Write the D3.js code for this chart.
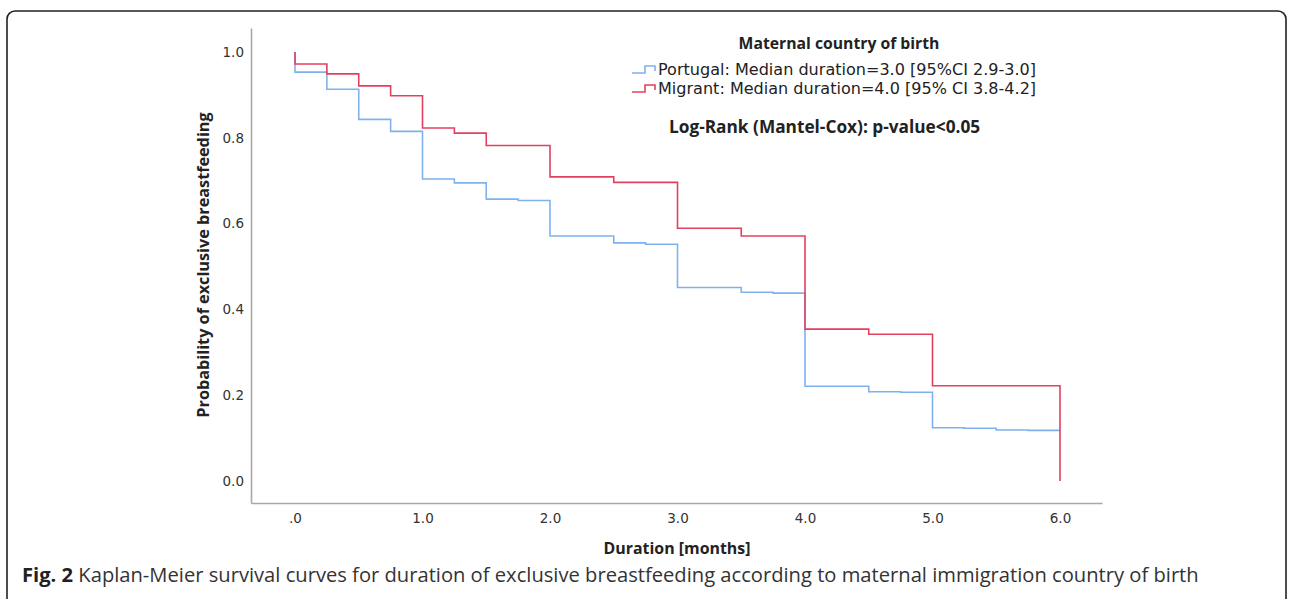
<!DOCTYPE html>
<html>
<head>
<meta charset="utf-8">
<script src="https://cdn.jsdelivr.net/npm/d3@7"></script>
<style>
  html, body { margin: 0; padding: 0; background: #fff; }
  svg { display: block; }
</style>
</head>
<body>
<svg id="chart" width="1289" height="599"></svg>
<script>
// ---- Data ----
const portugalTimes = [0, 0, 0.25, 0.5, 0.75, 1.0, 1.25, 1.5, 1.75, 2.0, 2.5, 2.75, 3.0, 3.5, 3.75, 4.0, 4.5, 4.75, 5.0, 5.25, 5.5, 5.75, 6.0];
const portugalSurv  = [1.0, 0.953, 0.913, 0.843, 0.815, 0.704, 0.695, 0.657, 0.654, 0.571, 0.555, 0.552, 0.451, 0.440, 0.438, 0.221, 0.208, 0.207, 0.124, 0.123, 0.119, 0.118, 0.118];
const migrantTimes  = [0, 0, 0.25, 0.5, 0.75, 1.0, 1.25, 1.5, 2.0, 2.5, 3.0, 3.5, 4.0, 4.5, 5.0, 6.0];
const migrantSurv   = [1.0, 0.972, 0.949, 0.921, 0.898, 0.823, 0.811, 0.782, 0.709, 0.696, 0.589, 0.571, 0.354, 0.342, 0.222, 0.0];

const xTicks = [0, 1, 2, 3, 4, 5, 6];
const xTickLabels = [".0", "1.0", "2.0", "3.0", "4.0", "5.0", "6.0"];
const yTicks = [0, 0.2, 0.4, 0.6, 0.8, 1.0];
const yTickLabels = ["0.0", "0.2", "0.4", "0.6", "0.8", "1.0"];

const seriesNames = ["Portugal: Median duration=3.0 [95%CI 2.9-3.0]", "Migrant: Median duration=4.0 [95% CI 3.8-4.2]"];
const seriesColors = ["#7fb1ef", "#e2405f"];
const legendTitle = "Maternal country of birth";
const testLabel = "Log-Rank (Mantel-Cox): p-value<0.05";
const xTitle = "Duration [months]";
const yTitle = "Probability of exclusive breastfeeding";
const captionBold = "Fig. 2";
const captionText = " Kaplan-Meier survival curves for duration of exclusive breastfeeding according to maternal immigration country of birth";

// ---- Layout ----
const svg = d3.select("#chart");
const chartFont = "'DejaVu Sans', sans-serif";
const boldFont = "'Open Sans', sans-serif";

// frame
svg.append("rect")
  .attr("x", 7).attr("y", 11).attr("width", 1279).attr("height", 640)
  .attr("rx", 8).attr("ry", 8)
  .attr("fill", "none").attr("stroke", "#222").attr("stroke-width", 1.6);

// scales: axis lines span 251..1102 and 28..503; x(0)=295, x(6)=1060; y(0)=481, y(1)=52
const xPerUnit = (1060 - 295) / 6;
const x = d3.scaleLinear()
  .domain([(251 - 295) / xPerUnit, (1102 - 295) / xPerUnit])
  .range([251, 1102]);
const yPerUnit = (481 - 52);
const y = d3.scaleLinear()
  .domain([(481 - 503) / yPerUnit, (481 - 28) / yPerUnit])
  .range([503, 28]);

function fitWidth(sel, target) {
  const node = sel.node();
  let fs = parseFloat(sel.attr("font-size"));
  for (let i = 0; i < 3; i++) {
    const w = node.getComputedTextLength();
    if (w > 0) { fs = fs * target / w; sel.attr("font-size", fs); }
  }
}

// axes
const xAxis = d3.axisBottom(x)
  .tickValues(xTicks)
  .tickFormat((d, i) => xTickLabels[i])
  .tickSize(0).tickPadding(10);
const gx = svg.append("g").attr("transform", "translate(0,503)").call(xAxis);
gx.select(".domain").attr("stroke", "#a8a8a8").attr("stroke-width", 1.6);
gx.selectAll("text").attr("font-family", chartFont).attr("font-size", 13.5).attr("fill", "#333");

const yAxis = d3.axisLeft(y)
  .tickValues(yTicks)
  .tickFormat((d, i) => yTickLabels[i])
  .tickSize(0).tickPadding(7);
const gy = svg.append("g").attr("transform", "translate(251,0)").call(yAxis);
gy.select(".domain").attr("stroke", "#a8a8a8").attr("stroke-width", 1.6);
gy.selectAll("text").attr("font-family", chartFont).attr("font-size", 13.5).attr("fill", "#333");

// curves
const line = d3.line().x(d => x(d[0])).y(d => y(d[1])).curve(d3.curveStepAfter);
const portugalData = portugalTimes.map((t, i) => [t, portugalSurv[i]]);
const migrantData = migrantTimes.map((t, i) => [t, migrantSurv[i]]);

svg.append("path").datum(portugalData)
  .attr("d", line).attr("fill", "none")
  .attr("stroke", seriesColors[0]).attr("stroke-width", 1.6);
svg.append("path").datum(migrantData)
  .attr("d", line).attr("fill", "none")
  .attr("stroke", seriesColors[1]).attr("stroke-width", 1.6);

// axis titles
const xt = svg.append("text").text(xTitle)
  .attr("x", 677).attr("y", 554).attr("text-anchor", "middle")
  .attr("font-family", boldFont).attr("font-weight", "bold").attr("font-size", 15).attr("fill", "#222");
fitWidth(xt, 147);

const yt = svg.append("text").text(yTitle)
  .attr("transform", "translate(209,265) rotate(-90)").attr("text-anchor", "middle")
  .attr("font-family", boldFont).attr("font-weight", "bold").attr("font-size", 15).attr("fill", "#222");
fitWidth(yt, 305);

// legend
const lt = svg.append("text").text(legendTitle)
  .attr("x", 839).attr("y", 49).attr("text-anchor", "middle")
  .attr("font-family", boldFont).attr("font-weight", "bold").attr("font-size", 15).attr("fill", "#222");
fitWidth(lt, 201);

const legendY = [70, 89];
seriesNames.forEach((name, i) => {
  const cy = legendY[i];
  svg.append("path")
    .attr("d", `M632,${cy + 3}H645V${cy - 4}H655V${cy + 1}`)
    .attr("fill", "none").attr("stroke", seriesColors[i]).attr("stroke-width", 1.6);
  const t = svg.append("text").text(name)
    .attr("x", 658).attr("y", cy + 5)
    .attr("font-family", chartFont).attr("font-size", 14).attr("fill", "#222");
  fitWidth(t, 378);
});

const tl = svg.append("text").text(testLabel)
  .attr("x", 669).attr("y", 133)
  .attr("font-family", boldFont).attr("font-weight", "bold").attr("font-size", 15).attr("fill", "#222");
fitWidth(tl, 311);

// caption
const cap = svg.append("text")
  .attr("x", 22).attr("y", 582)
  .attr("font-family", "'Open Sans', sans-serif").attr("font-size", 17).attr("fill", "#333");
cap.append("tspan").attr("font-weight", "bold").attr("fill", "#222").text(captionBold);
cap.append("tspan").text(captionText);
fitWidth(cap, 1177);
</script>
</body>
</html>
